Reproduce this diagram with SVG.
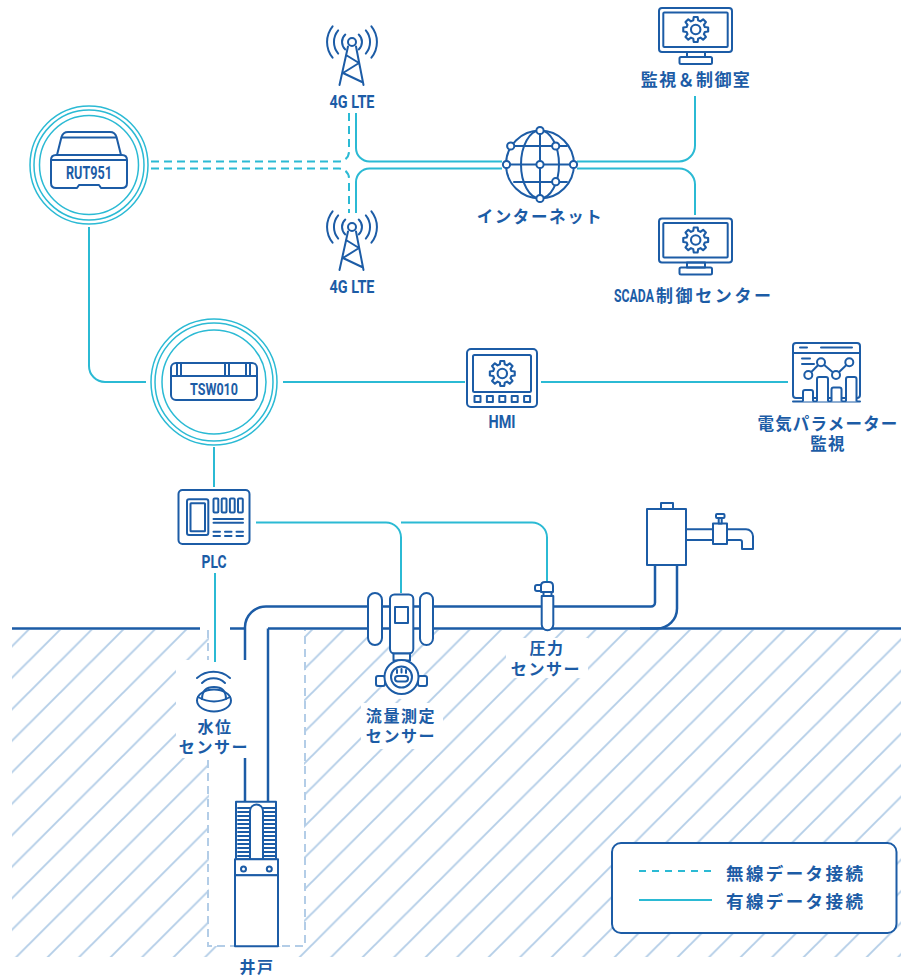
<svg xmlns="http://www.w3.org/2000/svg" width="901" height="977" viewBox="0 0 901 977">
<style>
.ic{fill:none;stroke:#1c5ca6;stroke-width:2;stroke-linejoin:round;stroke-linecap:round}
.icw{fill:#fff;stroke:#1c5ca6;stroke-width:2;stroke-linejoin:round}
.pipe{fill:none;stroke:#1c5ca6;stroke-width:2.5;stroke-linejoin:round}
.wire{fill:none;stroke:#2bbad4;stroke-width:2}
.air{fill:none;stroke:#2bbad4;stroke-width:2;stroke-dasharray:8 5}
.ring{fill:none;stroke:#2bbad4;stroke-width:1.5}
.jp{font-family:"Noto Sans CJK JP","Noto Sans",sans-serif;font-weight:700;fill:#1c5ca6;text-anchor:middle;font-size:16px;letter-spacing:1.6px}
.en{font-family:Roboto,"Liberation Sans",sans-serif;font-weight:700;fill:#1c5ca6;text-anchor:middle;font-size:18px}
.bg{fill:#fff}
</style>
<defs>
  <pattern id="hatch" patternUnits="userSpaceOnUse" width="31.5" height="31.5" patternTransform="translate(-3.2 0)">
    <path d="M0 31.5 L31.5 0 M-2 2 L2 -2 M29.5 33.5 L33.5 29.5" stroke="#b3cde7" stroke-width="1.9"/>
  </pattern>
  <g id="gear">
    <polygon points="8.69,-2.33 11.85,-1.88 11.85,1.88 8.69,2.33 7.79,4.5 9.71,7.05 7.05,9.71 4.5,7.79 2.33,8.69 1.88,11.85 -1.88,11.85 -2.33,8.69 -4.5,7.79 -7.05,9.71 -9.71,7.05 -7.79,4.5 -8.69,2.33 -11.85,1.88 -11.85,-1.88 -8.69,-2.33 -7.79,-4.5 -9.71,-7.05 -7.05,-9.71 -4.5,-7.79 -2.33,-8.69 -1.88,-11.85 1.88,-11.85 2.33,-8.69 4.5,-7.79 7.05,-9.71 9.71,-7.05 7.79,-4.5"/>
    <circle r="4.5"/>
  </g>
  <g id="monitor" class="ic">
    <rect x="0" y="0" width="73" height="44" rx="3"/>
    <rect x="4.3" y="4.5" width="64.4" height="34.5" rx="1"/>
    <use href="#gear" transform="translate(36.7 21.5) scale(1.05)"/>
    <rect x="28" y="44" width="18" height="5"/>
    <rect x="20.5" y="49" width="32.5" height="7" rx="1.5"/>
  </g>
  <g id="tower" class="ic" stroke-width="2.2">
    <circle r="4"/>
    <path d="M-4 4.5 L-12.5 43 M4 4.5 L11.5 43 M-6 13 L7 21 L-9 31 L10 40"/>
    <path d="M-6.7 -7.4 A10 10 0 0 0 -6.7 7.4 M-13.8 -11.6 A18 18 0 0 0 -13.8 11.6 M-19.4 -15.7 A25 25 0 0 0 -19.4 15.7"/>
    <path d="M6.7 -7.4 A10 10 0 0 1 6.7 7.4 M13.8 -11.6 A18 18 0 0 1 13.8 11.6 M19.4 -15.7 A25 25 0 0 1 19.4 15.7"/>
  </g>
</defs>

<rect width="901" height="977" fill="#fff"/>

<!-- ground -->
<g id="ground">
  <rect x="12" y="630" width="889" height="327" fill="url(#hatch)"/>
  <rect x="209" y="630" width="95" height="316" class="bg"/>
  <rect x="228" y="947" width="58" height="30" class="bg"/>
  <path d="M208 630 V946 H305 V630" fill="none" stroke="#b3cde7" stroke-width="2" stroke-dasharray="8 5"/>
  <path d="M12 628.5 H200 M230 628.5 H245 M268 628.5 H901" class="pipe"/>
</g>

<!-- pipework -->
<g id="pipe">
  <path class="pipe" d="M245 801 V627 A21 21 0 0 1 266 606.5 H651 A4 4 0 0 0 655 602.5 V565"/>
  <path class="pipe" d="M268 801 V628.5"/>
  <path class="pipe" d="M640 628.5 H657 A20 20 0 0 0 677 608.5 V565"/>
</g>

<!-- connectors -->
<g id="connectors">
  <path class="air" d="M151 161.5 H339 A10 10 0 0 0 349 151.5 V113"/>
  <path class="air" d="M151 168.5 H339 A10 10 0 0 1 349 178.5 V213"/>
  <path class="wire" d="M356 113 V148 A13.5 13.5 0 0 0 369.5 161.5 H502"/>
  <path class="wire" d="M356 213 V182 A13.5 13.5 0 0 1 369.5 168.5 H502"/>
  <path class="wire" d="M577 161.5 H679 A16 16 0 0 0 695 145.5 V96"/>
  <path class="wire" d="M577 168.5 H679 A16 16 0 0 1 695 184.5 V215"/>
  <path class="wire" d="M89 227 V366 A16 16 0 0 0 105 382 H146"/>
  <path class="wire" d="M283 382 H465"/>
  <path class="wire" d="M541 382 H788"/>
  <path class="wire" d="M214 447 V487"/>
  <path class="wire" d="M256 522.5 H386 A15 15 0 0 1 401 537.5 V593"/>
  <path class="wire" d="M401 522.5 H532 A15 15 0 0 1 547 537.5 V581"/>
  <path class="wire" d="M215 573 V658"/>
</g>

<!-- RUT951 router -->
<g id="rut951">
  <circle class="ring" cx="89" cy="165" r="59"/>
  <circle class="ring" cx="89" cy="165" r="55"/>
  <circle class="ring" cx="89" cy="165" r="49.5"/>
  <path class="ic" d="M57 155 L61.5 137 Q63 132 68 132 H110 Q115 132 116.5 137 L121 155"/>
  <path class="ic" d="M62 137.5 H116"/>
  <path class="icw" d="M51 160 Q51 155 56 155 H122 Q127 155 127 160 V183 Q127 188 122 188 H101 L99 185 H79 L77 188 H56 Q51 188 51 183 Z"/>
  <path class="ic" d="M52 160 H126"/>
  <text class="en" x="89" y="179" textLength="46" lengthAdjust="spacingAndGlyphs">RUT951</text>
</g>

<!-- LTE towers -->
<g id="lte-top">
  <use href="#tower" x="352" y="42"/>
  <text class="en" x="352" y="107.5" textLength="45" lengthAdjust="spacingAndGlyphs">4G LTE</text>
</g>
<g id="lte-bottom">
  <use href="#tower" x="352" y="227"/>
  <text class="en" x="352" y="292.5" textLength="45" lengthAdjust="spacingAndGlyphs">4G LTE</text>
</g>

<!-- internet -->
<g id="internet">
  <g class="ic">
    <circle cx="540" cy="164.5" r="34"/>
    <ellipse cx="540" cy="164.5" rx="19" ry="34"/>
    <path d="M540 130 V199 M514 146 H567 M506 164.5 H574 M514 182 H567"/>
  </g>
  <g class="icw">
    <circle cx="540" cy="130.5" r="3.6"/>
    <circle cx="540" cy="198.5" r="3.6"/>
    <circle cx="506.5" cy="164.5" r="3.6"/>
    <circle cx="573.5" cy="164.5" r="3.6"/>
    <circle cx="540" cy="164.5" r="3.6"/>
    <circle cx="510.7" cy="146" r="3.6"/>
    <circle cx="555.7" cy="146" r="3.6"/>
    <circle cx="555.7" cy="181.7" r="3.6"/>
  </g>
  <text class="jp" x="540" y="223" style="font-size:16.5px;letter-spacing:1.6px">インターネット</text>
</g>

<!-- control room -->
<g id="monitor-room">
  <use href="#monitor" x="659" y="8"/>
  <text class="jp" x="696" y="86" style="font-size:17px;letter-spacing:1.4px">監視＆制御室</text>
</g>
<g id="scada-center">
  <use href="#monitor" x="659" y="218.5"/>
  <text class="jp" x="614" y="301.5" style="font-size:17px;letter-spacing:2.6px;text-anchor:start"><tspan textLength="40" lengthAdjust="spacingAndGlyphs" style="font-family:Roboto,'Liberation Sans',sans-serif;font-size:18px;letter-spacing:0px">SCADA</tspan><tspan x="656">制御センター</tspan></text>
</g>

<!-- TSW010 switch -->
<g id="tsw010">
  <circle class="ring" cx="214" cy="382" r="63"/>
  <circle class="ring" cx="214" cy="382" r="59"/>
  <circle class="ring" cx="214" cy="382" r="52"/>
  <rect class="ic" x="171" y="363" width="86" height="37" rx="5"/>
  <path class="ic" d="M171 376 H257 M177 364 V376 M181 364 V376 M225 364 V376 M229 364 V376 M246 364 V376 M250 364 V376"/>
  <text class="en" x="214" y="394.5" style="font-size:17px" textLength="48" lengthAdjust="spacingAndGlyphs">TSW010</text>
</g>

<!-- HMI panel -->
<g id="hmi">
  <g class="ic">
    <rect x="467" y="349" width="70" height="58" rx="4"/>
    <rect x="473" y="355" width="58" height="37" rx="1.5"/>
    <use href="#gear" transform="translate(502.3 373.5) scale(1.05)"/>
    <rect x="474.5" y="396" width="6" height="6"/>
    <rect x="486.9" y="396" width="6" height="6"/>
    <rect x="499.3" y="396" width="6" height="6"/>
    <rect x="511.7" y="396" width="6" height="6"/>
    <rect x="524.1" y="396" width="6" height="6"/>
  </g>
  <text class="en" x="502" y="427.5" textLength="27" lengthAdjust="spacingAndGlyphs">HMI</text>
</g>

<!-- electrical parameter monitoring -->
<g id="param-monitor">
  <g class="ic">
    <rect x="793" y="343" width="67" height="55" rx="3"/>
    <path d="M793 353 H860 M800 347.5 H807 M821 347.5 H852 M802 358.5 H810 M802 364 H814 M793 401.5 H860"/>
  </g>
  <g class="icw">
    <path d="M803 401.5 V392 Q803 390 805 390 H811 Q813 390 813 392 V401.5"/>
    <path d="M817 401.5 V379 Q817 377 819 377 H826 Q828 377 828 379 V401.5"/>
    <path d="M831.5 401.5 V389.5 Q831.5 387.5 833.5 387.5 H839.5 Q841.5 387.5 841.5 389.5 V401.5"/>
    <path d="M846 401.5 V379 Q846 377 848 377 H854.5 Q856.5 377 856.5 379 V401.5"/>
  </g>
  <path class="ic" d="M808.3 375 L821 362.3 L836 375 L849.3 362.3"/>
  <g class="icw">
    <circle cx="808.3" cy="375" r="4"/>
    <circle cx="821" cy="362.3" r="4"/>
    <circle cx="836" cy="375" r="4"/>
    <circle cx="849.3" cy="362.3" r="4"/>
  </g>
  <text class="jp" x="828" y="430" style="font-size:16.5px;letter-spacing:1.2px">電気パラメーター<tspan x="828" dy="20">監視</tspan></text>
</g>

<!-- PLC -->
<g id="plc">
  <g class="ic">
    <rect x="178.5" y="490" width="71" height="54" rx="4"/>
    <rect x="187" y="499.3" width="21.3" height="35.7" rx="2"/>
    <rect x="190.5" y="503.3" width="14.5" height="28" rx="0.5"/>
    <rect x="213.5" y="498.5" width="4.8" height="14" rx="1"/>
    <rect x="221.7" y="498.5" width="4.8" height="14" rx="1"/>
    <rect x="229.9" y="498.5" width="4.8" height="14" rx="1"/>
    <rect x="238" y="498.5" width="4.8" height="14" rx="1"/>
    <path d="M213.5 519 H243 M213.5 522.7 H243 M213.5 531.7 H220 M225 531.7 H231.5 M236.5 531.7 H243 M213.5 536 H220 M225 536 H231.5 M236.5 536 H243"/>
  </g>
  <text class="en" x="214" y="567.5" textLength="25" lengthAdjust="spacingAndGlyphs">PLC</text>
</g>

<!-- water level sensor -->
<g id="water-level">
  <rect x="176" y="660" width="76" height="98" class="bg"/>
  <path class="wire" d="M215 658 V662"/>
  <g class="ic">
    <path d="M197 678 A25 25 0 0 1 230 678 M202 683 A16.4 16.4 0 0 1 225 683"/>
    <ellipse cx="214" cy="700.5" rx="17" ry="11"/>
    <path d="M202 699 Q202 687 214 687 Q226 687 226 699"/>
    <path d="M198 697 Q214 706 230 697"/>
  </g>
  <text class="jp" x="215" y="733">水位<tspan x="214" dy="20">センサー</tspan></text>
</g>

<!-- flow meter -->
<g id="flow-sensor">
  <circle cx="401.5" cy="677" r="22" class="bg"/>
  <rect x="361" y="703" width="82" height="46" class="bg"/>
  <g class="icw">
    <rect x="368" y="593" width="14" height="52" rx="7"/>
    <rect x="420" y="593" width="13" height="52" rx="6.5"/>
    <rect x="390" y="594.5" width="23.3" height="59" rx="4.5"/>
    <rect x="393.5" y="653.5" width="16.5" height="7"/>
    <rect x="376" y="676" width="9" height="10" rx="2"/>
    <rect x="418" y="676" width="9" height="10" rx="2"/>
    <circle cx="401.5" cy="677" r="17"/>
  </g>
  <g class="ic">
    <rect x="395" y="607" width="13" height="16"/>
    <circle cx="401.5" cy="677" r="10.5"/>
    <path d="M397 670 V673 M401.5 669 V672.5 M406 670 V673"/>
    <rect x="395" y="676" width="13" height="5.5" rx="2.7"/>
  </g>
  <text class="jp" x="401" y="722">流量測定<tspan x="401" dy="20">センサー</tspan></text>
</g>

<!-- pressure sensor -->
<g id="pressure-sensor">
  <rect x="506" y="638" width="82" height="40" class="bg"/>
  <g class="icw">
    <path d="M541.7 596 V624.5 A5.8 5.8 0 0 0 553.3 624.5 V596 Z"/>
    <rect x="543.5" y="590" width="8" height="6"/>
    <rect x="535" y="585" width="10" height="6" rx="2"/>
    <path d="M541 592 V586 Q541 582 545 582 H549 Q553 582 553 586 V592 Z"/>
  </g>
  <text class="jp" x="547" y="654">圧力<tspan x="546" dy="21">センサー</tspan></text>
</g>

<!-- tank and faucet -->
<g id="tank">
  <g class="icw">
    <rect x="647" y="509" width="39" height="56"/>
    <rect x="661" y="503" width="12" height="6"/>
    <path d="M727 529.3 H746 A7 7 0 0 1 753 536.3 V549 H742 V542 A2 2 0 0 0 740 540 H727 Z"/>
  </g>
  <path class="ic" d="M686 529.3 H713 M686 540 H713"/>
  <g class="icw">
    <rect x="713" y="523.5" width="14" height="20.5"/>
    <rect x="718.7" y="518" width="3" height="5.5"/>
    <rect x="716" y="514" width="8.5" height="4" rx="1"/>
  </g>
</g>

<!-- well pump -->
<g id="well">
  <g class="icw">
    <rect x="236" y="801.7" width="40" height="57.5"/>
    <rect x="235" y="859.2" width="43" height="16"/>
    <rect x="235" y="875.2" width="43" height="71"/>
  </g>
  <g class="ic" stroke-width="1.6">
    <path d="M250 859 V811 A6.5 6.5 0 0 1 263 811 V859"/>
    <path d="M238 808 H250 M238 812 H250 M238 816 H250 M238 820 H250 M238 824 H250 M238 828 H250 M238 832 H250 M238 836 H250 M238 840 H250 M238 844 H250 M238 848 H250 M238 852 H250 M238 856 H250"/>
    <path d="M263 808 H275 M263 812 H275 M263 816 H275 M263 820 H275 M263 824 H275 M263 828 H275 M263 832 H275 M263 836 H275 M263 840 H275 M263 844 H275 M263 848 H275 M263 852 H275 M263 856 H275"/>
  </g>
  <g class="ic">
    <circle cx="243.5" cy="869" r="2.5"/>
    <circle cx="269.3" cy="869" r="2.5"/>
  </g>
  <text class="jp" x="257" y="973">井戸</text>
</g>

<!-- legend -->
<g id="legend">
  <rect x="612" y="843" width="284.5" height="90" rx="9" fill="#fff" stroke="#1c5ca6" stroke-width="2"/>
  <path d="M639 871 H712" fill="none" stroke="#2bbad4" stroke-width="2" stroke-dasharray="7 6"/>
  <path d="M639 900 H712" fill="none" stroke="#2bbad4" stroke-width="2"/>
  <text class="jp" x="726" y="880" style="font-size:17.5px;letter-spacing:2.4px;text-anchor:start">無線データ接続</text>
  <text class="jp" x="726" y="908" style="font-size:17.5px;letter-spacing:2.4px;text-anchor:start">有線データ接続</text>
</g>
</svg>
